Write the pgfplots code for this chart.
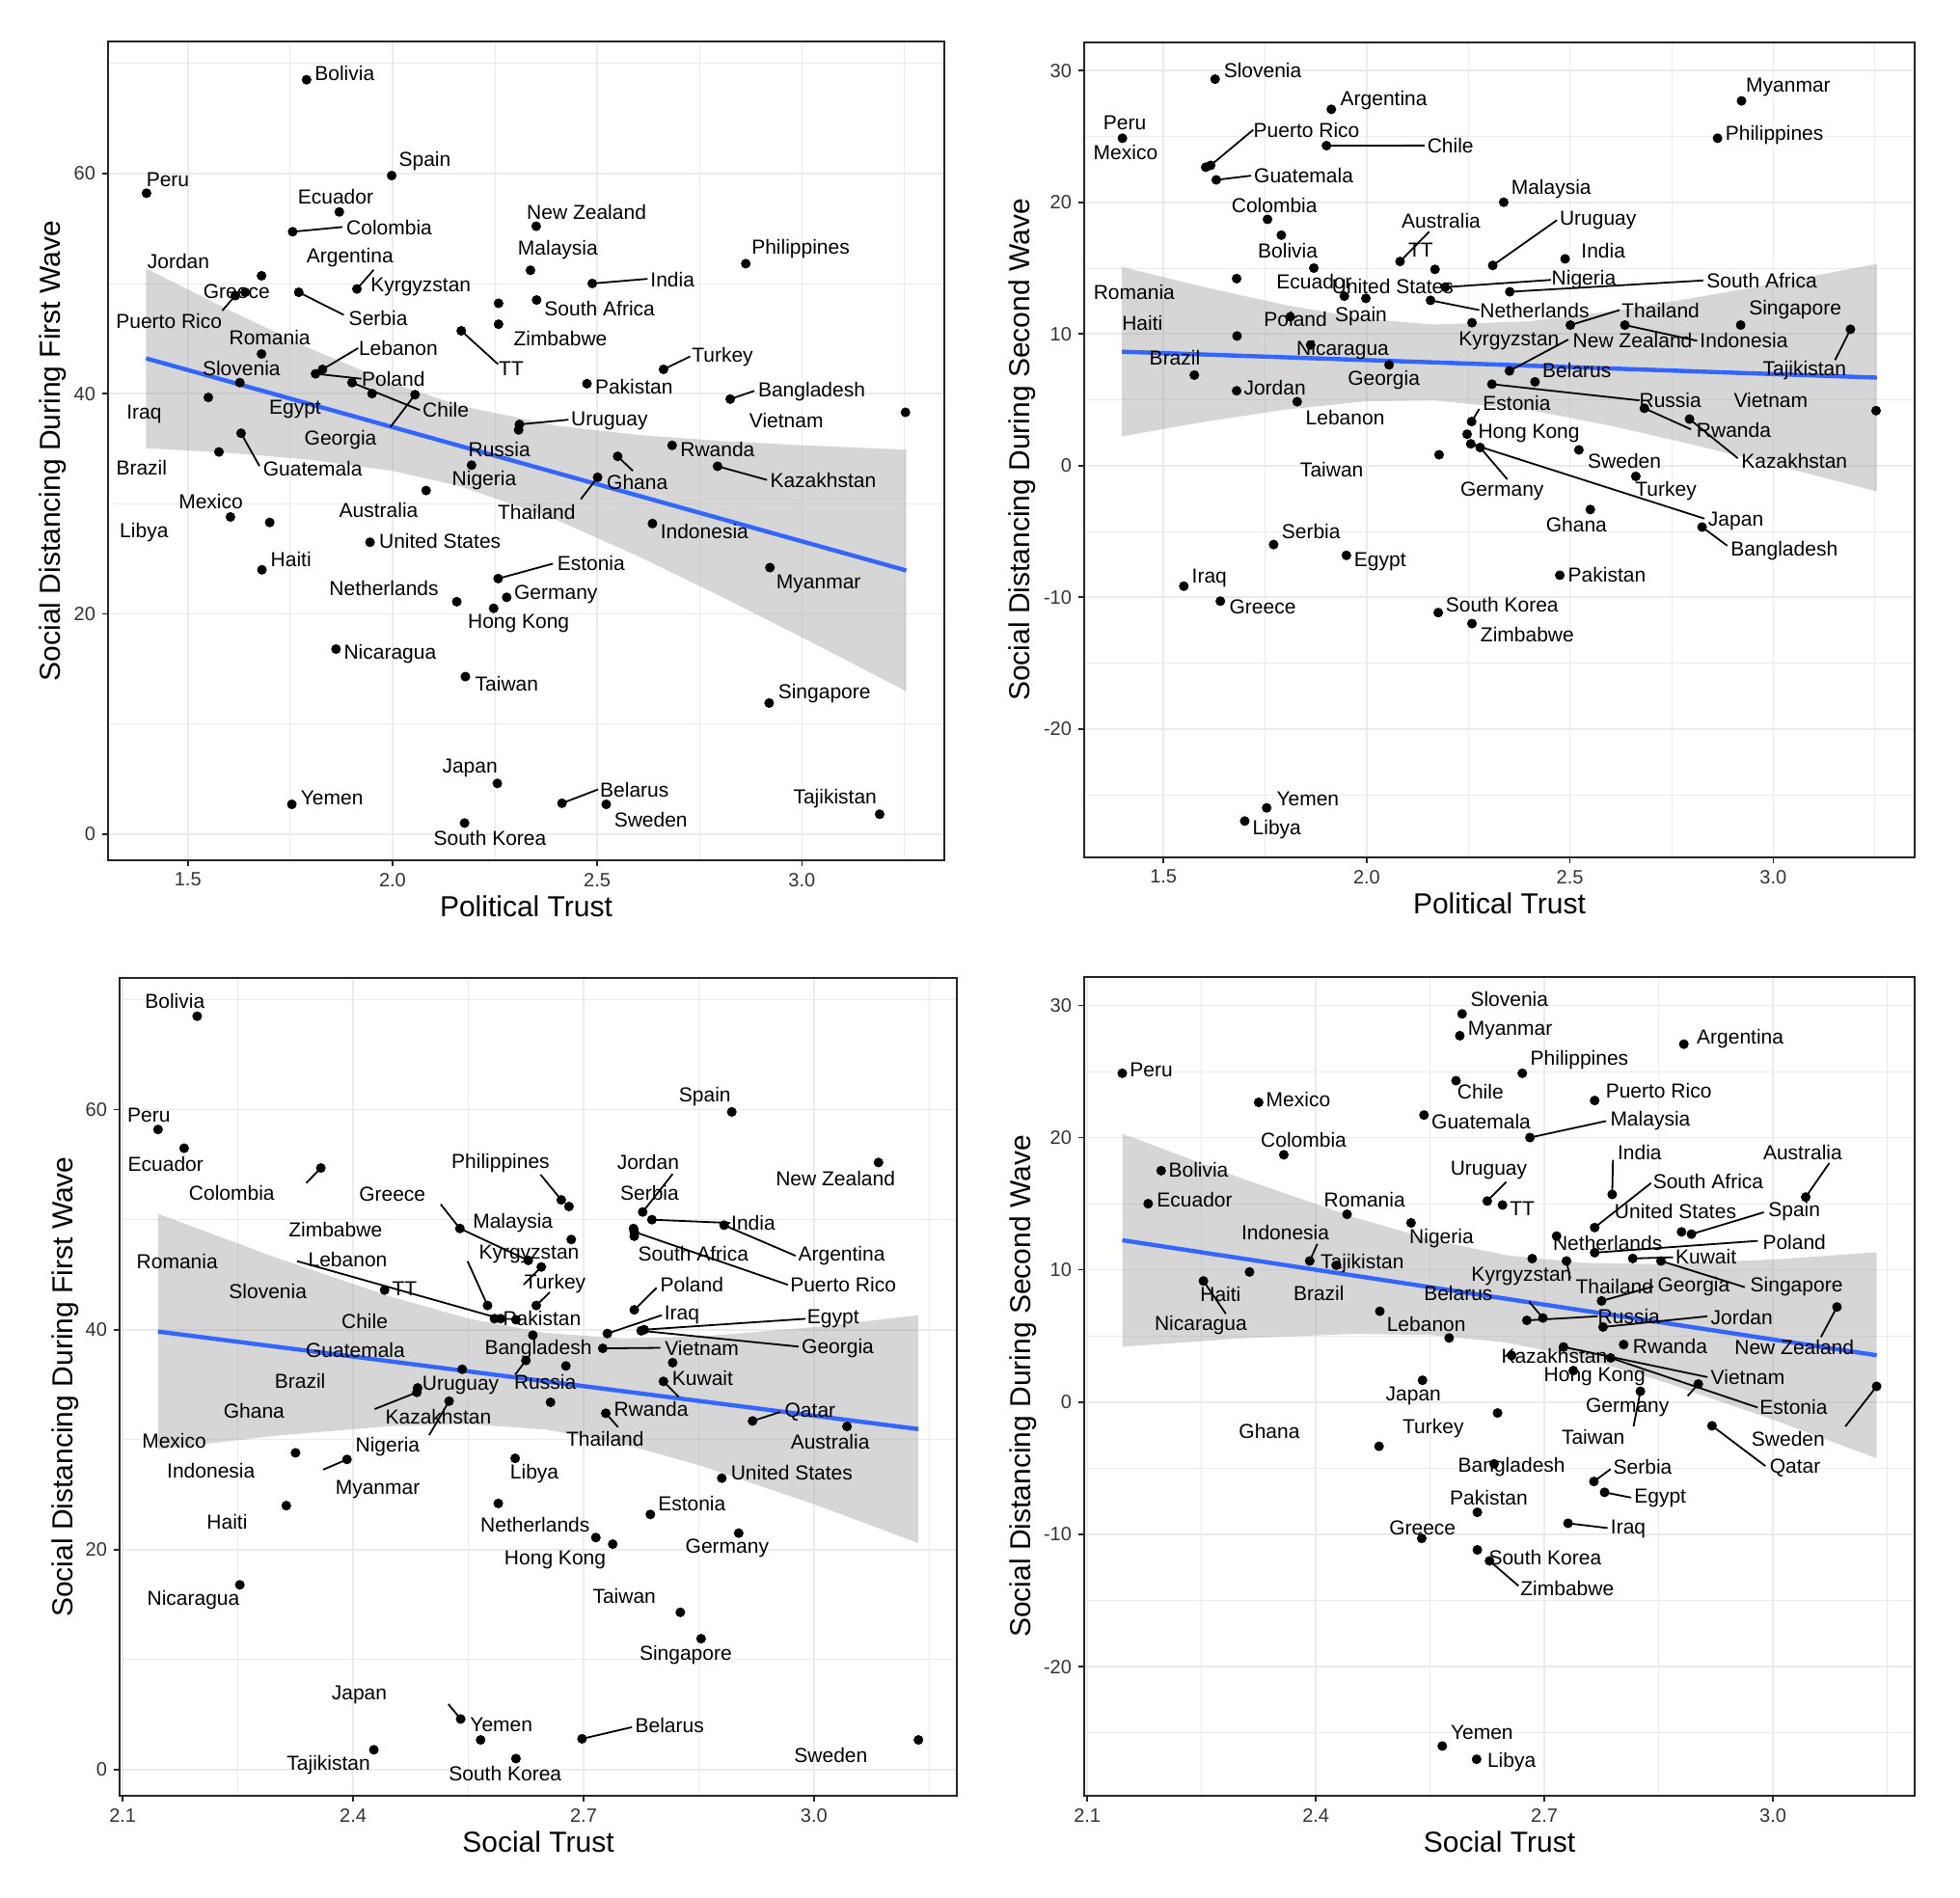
\documentclass[border=0pt]{standalone}
\usepackage{fontspec}
\setmainfont{Liberation Sans}
\usepackage{pgfplots}
\usepackage{pgfplotstable}
\pgfplotsset{compat=1.18}
\definecolor{fitblue}{HTML}{3366FF}

\pgfplotstableread[col sep=comma]{
name,pt,st,sd1,sd2
Bolivia,1.790,2.197,68.5,17.5
Spain,1.998,2.893,59.8,12.7
Peru,1.399,2.146,58.2,24.86
Ecuador,1.870,2.180,56.5,15.0
Colombia,1.756,2.358,54.7,18.7
New Zealand,2.351,3.084,55.2,7.19
Jordan,1.680,2.777,50.7,5.68
Argentina,1.913,2.883,49.5,27.06
Greece,1.640,2.539,49.2,-10.3
Puerto Rico,1.616,2.766,48.9,22.8
Serbia,1.771,2.765,49.2,-6.0
Malaysia,2.337,2.681,51.2,20.0
India,2.488,2.789,50.0,15.7
Philippines,2.863,2.671,51.8,24.86
Kyrgyzstan,2.259,2.684,48.2,10.85
South Africa,2.352,2.766,48.5,13.2
Zimbabwe,2.259,2.628,46.3,-12.0
TT,2.168,2.645,45.7,14.9
Romania,1.680,2.441,43.6,14.2
Lebanon,1.829,2.575,42.2,4.85
Poland,1.812,2.766,41.8,11.3
Chile,1.901,2.584,41.0,24.3
Georgia,2.055,2.775,39.9,7.65
Egypt,1.950,2.779,40.0,-6.82
Slovenia,1.627,2.592,41.0,29.35
Iraq,1.550,2.731,39.65,-9.16
Brazil,1.576,2.484,34.7,6.87
Guatemala,1.630,2.542,36.4,21.7
Uruguay,2.310,2.625,37.2,15.2
Russia,2.308,2.677,36.7,6.18
Nigeria,2.193,2.525,33.5,13.55
Australia,2.082,3.043,31.2,15.5
Ghana,2.550,2.483,34.3,-3.34
Thailand,2.501,2.729,32.4,10.67
Rwanda,2.683,2.804,35.3,4.35
Kazakhstan,2.794,2.657,33.4,3.53
Turkey,2.662,2.6385,42.2,-0.82
Pakistan,2.475,2.612,40.9,-8.33
Bangladesh,2.825,2.634,39.5,-4.67
Vietnam,3.253,2.725,38.3,4.17
Mexico,1.604,2.325,28.8,22.66
Libya,1.700,2.611,28.3,-27.0
Haiti,1.681,2.313,24.0,9.84
United States,1.945,2.880,26.5,12.87
Indonesia,2.635,2.392,28.2,10.67
Estonia,2.258,2.787,23.2,3.34
Netherlands,2.157,2.716,21.1,12.55
Germany,2.279,2.902,21.5,1.37
Hong Kong,2.247,2.738,20.5,2.38
Myanmar,2.922,2.589,24.2,27.7
Nicaragua,1.862,2.2525,16.8,9.16
Taiwan,2.178,2.826,14.3,0.82
Singapore,2.920,2.853,11.9,10.67
Japan,2.256,2.540,4.6,1.65
Yemen,1.754,2.566,2.7,-26.0
Belarus,2.414,2.698,2.8,6.36
Sweden,2.522,3.136,2.7,1.19
South Korea,2.176,2.612,1.0,-11.17
Tajikistan,3.190,2.427,1.8,10.35
Kuwait,nan,2.816,37.0,10.86
Qatar,nan,2.920,31.7,-1.79
}\master

% ---------- panel 1 labels ----------
\pgfplotstableread[col sep=comma]{
name,lx,ly
Bolivia,1.883,69.07
Spain,2.079,61.14
Peru,1.451,59.45
Ecuador,1.861,57.86
Colombia,1.992,55.07
New Zealand,2.474,56.44
Jordan,1.477,52.01
Argentina,1.896,52.34
Greece,1.619,49.28
Puerto Rico,1.454,46.54
Serbia,1.965,46.87
Malaysia,2.404,53.05
India,2.684,50.37
Philippines,2.997,53.16
Kyrgyzstan,2.069,49.66
South Africa,2.506,47.69
Zimbabwe,2.410,44.96
TT,2.290,42.28
Romania,1.700,45.12
Lebanon,2.014,44.13
Poland,2.002,41.35
Chile,2.130,38.56
Georgia,1.873,35.82
Egypt,1.762,38.56
Slovenia,1.631,42.33
Iraq,1.393,38.17
Brazil,1.387,33.25
Guatemala,1.805,33.14
Uruguay,2.530,37.52
Russia,2.261,34.89
Nigeria,2.224,32.10
Australia,1.966,29.37
Ghana,2.598,31.94
Thailand,2.352,29.26
Rwanda,2.794,34.89
Kazakhstan,3.052,32.10
Turkey,2.806,43.37
Pakistan,2.590,40.63
Bangladesh,3.024,40.20
Vietnam,2.962,37.52
Mexico,1.556,30.24
Libya,1.393,27.40
Haiti,1.752,24.99
United States,2.116,26.58
Indonesia,2.762,27.45
Estonia,2.485,24.56
Netherlands,1.979,22.31
Germany,2.399,21.77
Hong Kong,2.308,19.09
Myanmar,3.041,22.75
Nicaragua,1.994,16.35
Taiwan,2.279,13.67
Singapore,3.055,12.80
Japan,2.189,6.02
Yemen,1.852,3.28
Belarus,2.591,4.05
Sweden,2.631,1.31
South Korea,2.238,-0.38
Tajikistan,3.081,3.23
}\lblA

\pgfplotstableread[col sep=comma]{
x1,y1,x2,y2
1.756,54.7,1.878,55.13
1.913,49.5,1.954,51.24
1.616,48.9,1.584,47.53
1.771,49.2,1.881,47.14
2.488,50.0,2.623,50.42
2.168,45.7,2.258,42.66
1.829,42.2,1.916,44.13
1.812,41.8,1.924,41.35
1.901,41.0,2.067,38.50
2.055,39.9,1.995,36.97
1.630,36.4,1.675,33.42
2.310,37.2,2.430,37.63
2.550,34.3,2.587,32.98
2.501,32.4,2.460,30.41
2.794,33.4,2.915,32.16
2.662,42.2,2.727,43.37
2.825,39.5,2.884,40.25
2.258,23.2,2.392,24.56
2.414,2.8,2.502,4.05
}\segA

% ---------- panel 2 labels ----------
\pgfplotstableread[col sep=comma]{
name,lx,ly
Slovenia,1.744,29.99
Argentina,2.042,27.75
Myanmar,3.037,28.75
Peru,1.405,26.05
Mexico,1.407,23.76
Puerto Rico,1.852,25.50
Chile,2.206,24.31
Philippines,3.003,25.09
Guatemala,1.845,22.02
Malaysia,2.454,20.97
Colombia,1.773,19.73
Bolivia,1.806,16.35
Australia,2.183,18.59
Uruguay,2.569,18.64
TT,2.133,16.35
India,2.582,16.35
Ecuador,1.871,13.97
United States,2.064,13.64
Spain,1.986,11.36
Nigeria,2.534,14.10
South Africa,2.972,14.06
Romania,1.428,13.14
Netherlands,2.413,11.81
Thailand,2.723,11.81
Singapore,3.054,11.81
Haiti,1.448,10.85
Poland,1.825,11.08
Kyrgyzstan,2.350,9.48
New Zealand,2.654,9.48
Indonesia,2.928,9.48
Tajikistan,3.077,7.23
Nicaragua,1.941,8.79
Brazil,1.528,8.15
Belarus,2.517,7.23
Georgia,2.042,6.46
Jordan,1.774,5.95
Russia,2.747,4.95
Estonia,2.369,4.76
Vietnam,2.994,4.95
Lebanon,1.947,3.66
Rwanda,2.903,2.66
Kazakhstan,3.052,0.32
Hong Kong,2.399,2.47
Germany,2.333,-1.92
Japan,2.908,-4.21
Taiwan,1.914,-0.32
Sweden,2.634,0.32
Turkey,2.736,-1.92
Ghana,2.516,-4.49
Bangladesh,3.027,-6.46
Serbia,1.863,-4.99
Egypt,2.033,-7.28
Pakistan,2.591,-8.33
Iraq,1.613,-8.52
Greece,1.744,-10.76
South Korea,2.333,-10.58
Zimbabwe,2.395,-12.87
Yemen,1.855,-25.32
Libya,1.779,-27.66
}\lblB

\pgfplotstableread[col sep=comma]{
x1,y1,x2,y2
1.616,22.8,1.721,25.50
1.901,24.3,2.142,24.31
1.630,21.7,1.716,22.02
2.082,15.5,2.154,17.77
2.310,15.2,2.468,18.64
2.193,13.55,2.453,14.10
2.352,13.2,2.828,14.06
2.157,12.55,2.277,11.81
2.501,10.67,2.622,11.81
2.351,7.19,2.496,9.57
2.635,10.67,2.813,9.48
3.190,10.35,3.152,8.01
2.308,6.18,2.671,4.95
2.258,3.34,2.277,4.30
2.683,4.35,2.798,2.75
2.794,3.53,2.913,0.55
2.279,1.37,2.346,-1.05
2.256,1.65,2.831,-4.03
2.825,-4.67,2.887,-6.09
}\segB

% ---------- panel 3 labels ----------
\pgfplotstableread[col sep=comma]{
name,lx,ly
Bolivia,2.168,69.9
Spain,2.858,61.2
Peru,2.134,59.5
Ecuador,2.156,55.1
Colombia,2.242,52.4
Philippines,2.592,55.1
Jordan,2.784,55.2
New Zealand,3.028,53.7
Greece,2.451,52.3
Serbia,2.786,52.4
Zimbabwe,2.377,49.1
Malaysia,2.608,49.7
India,2.921,49.7
Kyrgyzstan,2.629,46.9
South Africa,2.843,46.9
Argentina,3.036,46.7
Romania,2.171,46.2
Lebanon,2.393,46.4
Puerto Rico,3.038,44.1
Slovenia,2.289,43.5
TT,2.467,43.7
Turkey,2.663,44.2
Poland,2.841,44.1
Pakistan,2.646,41.0
Iraq,2.828,41.3
Egypt,3.025,41.0
Chile,2.415,40.8
Guatemala,2.403,38.1
Bangladesh,2.641,38.2
Vietnam,2.854,38.3
Georgia,3.031,38.3
Brazil,2.331,35.3
Uruguay,2.540,34.9
Russia,2.650,35.2
Kuwait,2.855,35.6
Ghana,2.271,32.6
Kazakhstan,2.511,32.1
Rwanda,2.788,32.8
Qatar,2.995,32.5
Mexico,2.167,29.9
Thailand,2.728,30.1
Australia,3.021,29.8
Nigeria,2.445,29.4
Indonesia,2.215,27.2
Libya,2.636,26.9
United States,2.971,27.0
Myanmar,2.432,25.5
Estonia,2.841,24.2
Haiti,2.236,22.5
Netherlands,2.637,22.3
Germany,2.887,20.1
Hong Kong,2.663,19.1
Nicaragua,2.192,15.4
Taiwan,2.753,15.8
Singapore,2.833,10.4
Japan,2.408,6.8
Yemen,2.593,4.1
Belarus,2.812,4.0
Tajikistan,2.368,0.4
South Korea,2.598,-0.4
Sweden,3.022,1.3
}\lblC

\pgfplotstableread[col sep=comma]{
x1,y1,x2,y2
2.358,54.7,2.339,53.33
2.671,51.8,2.644,54.10
2.777,50.7,2.816,54.16
2.539,49.2,2.514,51.40
2.628,46.3,2.539,49.2
2.789,50.0,2.891,49.70
2.883,49.5,2.976,46.72
2.766,48.9,2.966,44.08
2.592,41.0,2.327,46.23
2.575,42.2,2.549,46.23
2.645,45.7,2.622,44.1
2.6385,42.2,2.656,43.4
2.766,41.8,2.795,43.80
2.731,39.65,2.802,41.32
2.779,40.0,2.989,40.99
2.775,39.9,2.980,38.46
2.725,38.3,2.800,38.35
2.625,37.2,2.611,35.92
2.525,33.5,2.499,30.41
2.483,34.3,2.428,32.78
2.729,32.4,2.745,31.13
2.804,35.3,2.824,33.88
2.920,31.7,2.956,32.51
2.540,4.6,2.524,5.95
2.698,2.8,2.763,3.86
2.392,28.2,2.361,27.27
}\segC

% ---------- panel 4 labels ----------
\pgfplotstableread[col sep=comma]{
name,lx,ly
Slovenia,2.654,30.45
Myanmar,2.655,28.1
Argentina,2.957,27.46
Philippines,2.746,25.85
Peru,2.184,25.1
Chile,2.616,23.5
Puerto Rico,2.850,23.55
Mexico,2.377,22.86
Guatemala,2.617,21.2
Malaysia,2.839,21.25
Colombia,2.384,19.8
India,2.825,18.9
Australia,3.039,18.9
Bolivia,2.246,17.57
Uruguay,2.627,17.5
South Africa,2.915,16.65
Ecuador,2.241,15.27
Romania,2.464,15.3
TT,2.671,14.6
United States,2.872,14.4
Spain,3.028,14.4
Indonesia,2.360,12.8
Nigeria,2.565,12.4
Netherlands,2.783,12.05
Poland,3.028,12.1
Tajikistan,2.461,10.5
Kuwait,2.912,11.0
Kyrgyzstan,2.670,9.52
Thailand,2.792,8.74
Georgia,2.896,8.74
Singapore,3.031,8.74
Haiti,2.275,8.19
Brazil,2.404,8.23
Belarus,2.587,8.23
Russia,2.811,6.49
Jordan,2.959,6.44
Nicaragua,2.249,5.8
Lebanon,2.545,5.93
Rwanda,2.865,4.19
New Zealand,3.028,4.14
Kazakhstan,2.713,3.5
Hong Kong,2.766,1.93
Vietnam,2.967,1.89
Japan,2.528,0.5
Germany,2.809,-0.41
Estonia,3.027,-0.41
Ghana,2.339,-2.21
Turkey,2.554,-2.02
Taiwan,2.764,-2.62
Sweden,3.020,-2.76
Bangladesh,2.657,-4.92
Serbia,2.829,-4.92
Qatar,3.029,-5.01
Pakistan,2.627,-7.22
Egypt,2.852,-7.27
Greece,2.540,-9.52
Iraq,2.810,-9.57
South Korea,2.701,-11.78
Zimbabwe,2.730,-14.08
Yemen,2.618,-24.98
Libya,2.657,-27.23
}\lblD

\pgfplotstableread[col sep=comma]{
x1,y1,x2,y2
2.681,20.0,2.781,21.25
2.789,15.7,2.790,18.31
3.043,15.5,3.074,18.08
2.625,15.2,2.650,16.65
2.766,13.2,2.840,16.56
2.893,12.7,2.988,14.35
2.392,10.67,2.402,11.96
2.766,11.3,2.980,12.19
2.816,10.86,2.869,10.95
2.853,10.67,2.963,8.69
2.729,10.67,2.734,9.34
2.775,7.65,2.843,8.74
2.2525,9.16,2.282,6.67
2.698,6.36,2.680,7.59
2.677,6.18,2.770,6.49
2.777,5.68,2.914,6.49
3.084,7.19,3.063,4.92
2.725,4.17,2.914,1.89
2.787,3.34,2.980,-0.41
2.902,1.37,2.888,0.46
2.826,0.82,2.817,-1.84
3.136,1.19,3.095,-1.84
2.920,-1.79,2.990,-4.83
2.765,-6.0,2.787,-5.06
2.779,-6.82,2.814,-7.22
2.731,-9.16,2.783,-9.52
2.628,-12.0,2.666,-13.89
}\segD

\pgfplotsset{
 panel/.style={
  scale only axis, anchor=south west,
  axis line style={draw=black!85, line width=0.8pt},
  tick pos=left, tick align=outside,
  major tick length=3pt, minor tick length=0pt,
  tick style={black!85, line width=0.8pt},
  xmajorgrids, ymajorgrids, xminorgrids, yminorgrids,
  major grid style={draw=black!8, line width=0.8pt},
  minor grid style={draw=black!8, line width=0.4pt},
  tick label style={font=\fontsize{10}{12}\selectfont, text=black!80},
  label style={font=\fontsize{15}{18}\selectfont},
  xlabel style={at={(axis description cs:0.5,0)}, anchor=center, yshift=-24pt},
 },
 lbl/.style={draw=none, nodes near coords, point meta=explicit symbolic,
   every node near coord/.append style={anchor=center, inner sep=0pt,
   font=\fontsize{10.5}{12}\selectfont, text=black}},
 pts/.style={only marks, mark=*, mark size=2.3pt, color=black},
 band/.style={fill=black!40, fill opacity=0.4, draw=none},
 fit/.style={color=fitblue, line width=2.2pt},
 seg/.style={color=black, line width=0.9pt,
   quiver={u={\thisrow{x2}-\thisrow{x1}}, v={\thisrow{y2}-\thisrow{y1}}}},
 ptaxis/.style={xmin=1.305, xmax=3.348, xtick={1.5,2,2.5,3},
   xticklabels={1.5,2.0,2.5,3.0}, minor xtick={1.75,2.25,2.75,3.25}, xlabel={Political Trust}},
 staxis/.style={xmin=2.096, xmax=3.186, xtick={2.1,2.4,2.7,3.0},
   xticklabels={2.1,2.4,2.7,3.0}, minor xtick={2.25,2.55,2.85,3.15}, xlabel={Social Trust}},
 sd1axis/.style={ymin=-2.38, ymax=71.98, ytick={0,20,40,60}, yticklabels={0,20,40,60},
   minor ytick={10,30,50,70}, ylabel={Social Distancing During First Wave}},
 sd2axis/.style={ymin=-29.76, ymax=32.14, ytick={-20,-10,0,10,20,30},
   yticklabels={-20,-10,0,10,20,30}, minor ytick={-25,-15,-5,5,15,25},
   ylabel={Social Distancing During Second Wave}},
}

\begin{document}
\begin{tikzpicture}[x=1pt,y=1pt]
\useasboundingbox (0,0) rectangle (1016,983.5);

% ---------------- top left ----------------
\begin{axis}[panel, ptaxis, sd1axis, at={(56pt,537.5pt)}, width=433.5pt, height=424.5pt,
  ylabel style={at={(axis description cs:-0.0657,0.5)}, anchor=center}]
\addplot[pts] table[x=pt, y=sd1]{\master};
\addplot[band] coordinates {(1.398,51.36)(1.6,47.60)(1.8,44.07)(2.0,40.94)(2.166,38.89)(2.4,37.09)(2.6,36.25)(2.8,35.70)(3.0,35.31)(3.255,34.91)(3.255,12.97)(3.0,17.87)(2.8,21.62)(2.6,25.23)(2.4,28.54)(2.166,31.59)(2.0,32.98)(1.8,33.99)(1.6,34.61)(1.398,35.04)} -- cycle;
\addplot[fit] coordinates {(1.398,43.2)(3.255,23.94)};
\addplot[seg] table[x=x1, y=y1]{\segA};
\addplot[lbl] table[x=lx, y=ly, meta=name]{\lblA};
\end{axis}

% ---------------- top right ----------------
\begin{axis}[panel, ptaxis, sd2axis, at={(562pt,539pt)}, width=430.5pt, height=422.5pt,
  ylabel style={at={(axis description cs:-0.0743,0.5)}, anchor=center}]
\addplot[pts] table[x=pt, y=sd2]{\master};
\addplot[band] coordinates {(1.398,15.08)(1.6,13.56)(1.8,12.19)(2.0,11.14)(2.166,10.71)(2.4,10.96)(2.6,11.71)(2.8,12.71)(3.0,13.82)(3.255,15.32)(3.255,-1.96)(3.0,0.08)(2.8,1.61)(2.6,3.03)(2.4,4.22)(2.166,4.95)(2.0,4.88)(1.8,4.25)(1.6,3.32)(1.398,2.22)} -- cycle;
\addplot[fit] coordinates {(1.398,8.65)(3.255,6.68)};
\addplot[seg] table[x=x1, y=y1]{\segB};
\addplot[lbl] table[x=lx, y=ly, meta=name]{\lblB};
\end{axis}

% ---------------- bottom left ----------------
\begin{axis}[panel, staxis, sd1axis, at={(62pt,52.5pt)}, width=434pt, height=424pt,
  ylabel style={at={(axis description cs:-0.0645,0.5)}, anchor=center}]
\addplot[pts] table[x=st, y=sd1]{\master};
\addplot[band] coordinates {(2.146,50.54)(2.3,46.54)(2.45,42.98)(2.55,41.01)(2.651,39.70)(2.75,39.21)(2.85,39.37)(3.0,40.23)(3.136,41.32)(3.136,20.60)(3.0,24.13)(2.85,27.69)(2.75,29.63)(2.651,30.92)(2.55,31.41)(2.45,31.24)(2.3,30.36)(2.146,29.12)} -- cycle;
\addplot[fit] coordinates {(2.146,39.83)(3.136,30.96)};
\addplot[seg] table[x=x1, y=y1]{\segC};
\addplot[lbl] table[x=lx, y=ly, meta=name]{\lblC};
\end{axis}

% ---------------- bottom right ----------------
\begin{axis}[panel, staxis, sd2axis, at={(562pt,52.5pt)}, width=430.5pt, height=424.5pt,
  ylabel style={at={(axis description cs:-0.073,0.5)}, anchor=center}]
\addplot[pts] table[x=st, y=sd2]{\master};
\addplot[band] coordinates {(2.146,20.29)(2.3,16.97)(2.45,13.98)(2.55,12.30)(2.651,11.10)(2.75,10.53)(2.85,10.44)(3.0,10.78)(3.136,11.33)(3.136,-4.25)(3.0,-1.32)(2.85,1.66)(2.75,3.33)(2.651,4.50)(2.55,5.08)(2.45,5.16)(2.3,4.81)(2.146,4.19)} -- cycle;
\addplot[fit] coordinates {(2.146,12.24)(3.136,3.54)};
\addplot[seg] table[x=x1, y=y1]{\segD};
\addplot[lbl] table[x=lx, y=ly, meta=name]{\lblD};
\end{axis}
\end{tikzpicture}
\end{document}
